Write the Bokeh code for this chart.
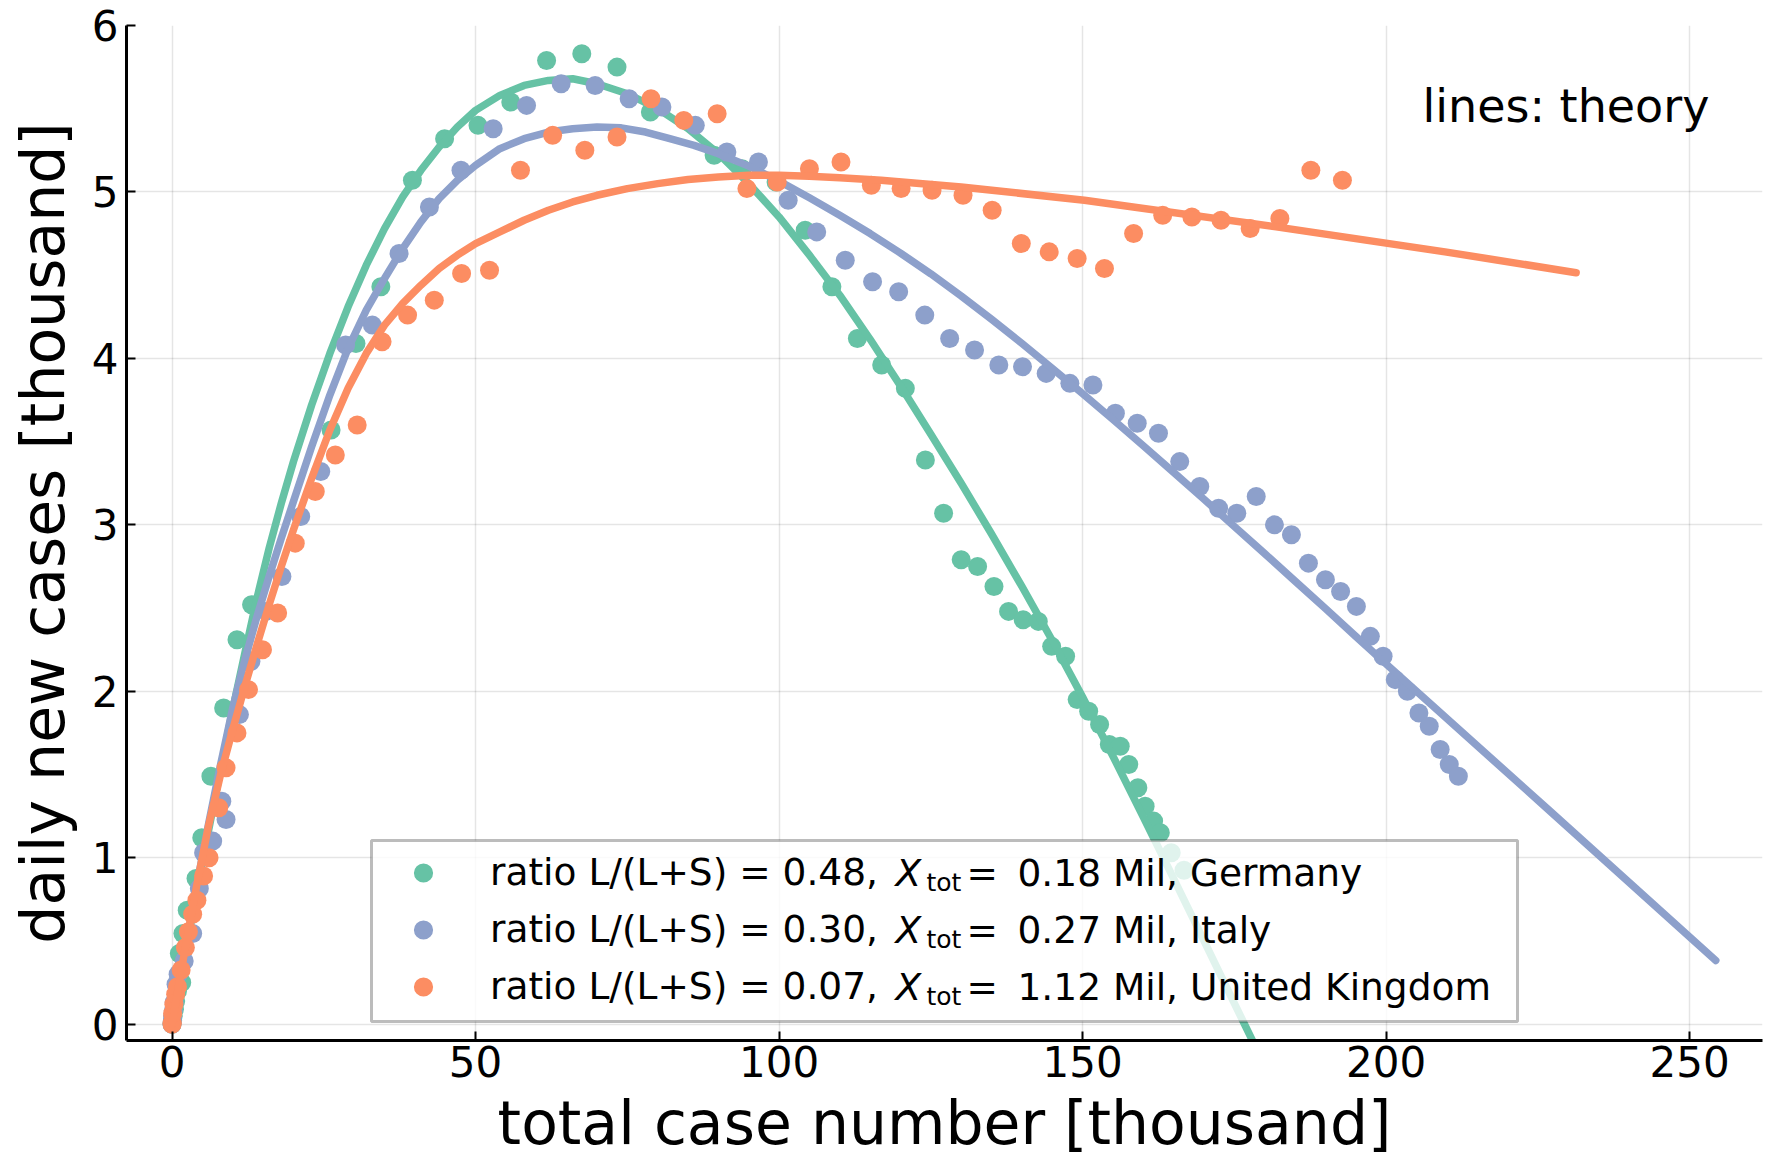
from bokeh.plotting import figure
from bokeh.models import Range1d, Label, BoxAnnotation, Legend, LegendItem, FixedTicker
from bokeh.embed import file_html
from bokeh.resources import INLINE

# ---------------- data (thousands) ----------------
ger_x = [0.0, 0.1, 0.2, 0.4, 0.6, 0.9, 1.2, 1.6, 1.8, 2.5, 3.95, 4.9, 6.4, 8.5, 10.7, 13.1,
         26.2, 30.3, 34.4, 39.6, 44.9, 50.4, 55.8, 61.7, 67.5, 73.3, 78.8, 89.3, 93.9, 99.5,
         104.3, 108.7, 112.9, 116.9, 120.8, 124.1, 127.1, 130.0, 132.7, 135.4, 137.8, 140.2,
         142.7, 144.9, 147.2, 149.1, 151.0, 152.8, 154.4, 156.2, 157.6, 159.1, 160.3, 161.7,
         162.8, 164.6, 166.7]
ger_y = [0.0, 0.02, 0.05, 0.09, 0.14, 0.20, 0.425, 0.25, 0.545, 0.685, 0.875, 1.12, 1.49, 1.90,
         2.31, 2.52, 3.57, 4.09, 4.43, 5.07, 5.32, 5.40, 5.54, 5.79, 5.83, 5.75, 5.48, 5.22, 5.14,
         5.06, 4.77, 4.43, 4.12, 3.96, 3.82, 3.39, 3.07, 2.79, 2.75, 2.63, 2.48, 2.43, 2.42, 2.27,
         2.21, 1.95, 1.88, 1.80, 1.68, 1.67, 1.56, 1.42, 1.31, 1.22, 1.15, 1.03, 0.925]

ita_x = [0.0, 0.05, 0.1, 0.2, 0.35, 0.66, 1.0, 2.0, 3.4, 4.5, 5.2, 6.7, 8.2, 8.9, 11.1, 13.0,
         15.5, 18.1, 21.2, 24.5, 28.6, 33.0, 37.4, 42.4, 47.6, 52.9, 58.4, 64.1, 69.7, 75.3,
         80.7, 86.2, 91.4, 96.6, 101.5, 106.2, 110.9, 115.4, 119.7, 124.0, 128.1, 132.2, 136.2,
         140.1, 144.0, 147.9, 151.7, 155.4, 159.0, 162.5, 166.0, 169.3, 172.4, 175.4, 178.6,
         181.6, 184.4, 187.2, 190.0, 192.5, 195.1, 197.4, 199.5, 201.5, 203.5, 205.4, 207.1,
         208.9, 210.4, 211.9]
ita_y = [0.0, 0.02, 0.05, 0.08, 0.13, 0.24, 0.30, 0.38, 0.545, 0.815, 1.03, 1.10, 1.34, 1.23,
         1.86, 2.18, 2.48, 2.69, 3.05, 3.32, 4.08, 4.20, 4.63, 4.91, 5.13, 5.38, 5.52, 5.65, 5.64,
         5.56, 5.51, 5.40, 5.24, 5.18, 4.95, 4.76, 4.59, 4.46, 4.40, 4.26, 4.12, 4.05, 3.96, 3.95,
         3.91, 3.85, 3.84, 3.67, 3.61, 3.55, 3.38, 3.23, 3.10, 3.07, 3.17, 3.00, 2.94, 2.77, 2.67,
         2.60, 2.51, 2.33, 2.21, 2.07, 2.00, 1.87, 1.79, 1.65, 1.56, 1.49]

uk_x = [0.0, 0.02, 0.1, 0.3, 0.6, 0.9, 1.5, 2.2, 2.7, 3.4, 4.1, 5.2, 6.1, 7.7, 8.9, 10.7, 12.6,
        14.9, 17.4, 20.3, 23.6, 26.9, 30.5, 34.6, 38.8, 43.2, 47.7, 52.3, 57.4, 62.7, 68.0, 73.3,
        78.9, 84.3, 89.8, 94.7, 99.7, 105.0, 110.2, 115.2, 120.1, 125.2, 130.3, 135.1, 139.9,
        144.5, 149.1, 153.6, 158.4, 163.2, 168.0, 172.8, 177.6, 182.5, 187.6, 192.8]
uk_y = [0.0, 0.006, 0.064, 0.12, 0.18, 0.225, 0.325, 0.46, 0.555, 0.66, 0.745, 0.89, 1.00, 1.30,
        1.54, 1.75, 2.01, 2.25, 2.47, 2.89, 3.20, 3.42, 3.60, 4.10, 4.26, 4.35, 4.51, 4.53, 5.13,
        5.34, 5.25, 5.33, 5.56, 5.43, 5.47, 5.02, 5.06, 5.14, 5.18, 5.04, 5.02, 5.01, 4.98, 4.89,
        4.69, 4.64, 4.60, 4.54, 4.75, 4.86, 4.85, 4.83, 4.78, 4.84, 5.13, 5.07]

# theory curves
ger_tx = [0, 2, 4, 6, 8, 10, 12, 14, 16, 18, 20, 23, 26, 29, 32, 35, 38, 41, 44, 47, 50, 54,
          58, 62, 66, 70, 75, 80, 85, 90, 95, 100, 105, 110, 115, 120, 125, 130, 135, 140, 145,
          150, 155, 160, 165, 170, 175, 180]
ger_ty = [0, 0.39, 0.78, 1.16, 1.53, 1.89, 2.23, 2.56, 2.86, 3.13, 3.38, 3.72, 4.03, 4.31, 4.56,
          4.78, 4.97, 5.13, 5.27, 5.39, 5.49, 5.58, 5.64, 5.67, 5.68, 5.65, 5.59, 5.50, 5.38, 5.23,
          5.05, 4.85, 4.62, 4.38, 4.115, 3.835, 3.545, 3.25, 2.945, 2.63, 2.305, 1.965, 1.61,
          1.245, 0.875, 0.50, 0.125, -0.25]

ita_tx = [0, 2, 4, 6, 8, 10, 12, 14, 16, 18, 20, 23, 26, 29, 32, 35, 38, 41, 44, 47, 50, 54,
          58, 62, 66, 70, 74, 78, 82, 86, 90, 95, 100, 105, 110, 115, 120, 125, 130, 135, 140,
          145, 150, 155, 160, 165, 170, 175, 180, 185, 190, 195, 200, 227.0, 254.3]
ita_ty = [0, 0.41, 0.82, 1.20, 1.56, 1.90, 2.19, 2.45, 2.69, 2.92, 3.14, 3.47, 3.78, 4.06, 4.29,
          4.48, 4.66, 4.82, 4.96, 5.07, 5.16, 5.26, 5.32, 5.36, 5.38, 5.39, 5.385, 5.36, 5.32,
          5.28, 5.23, 5.155, 5.065, 4.965, 4.86, 4.75, 4.633, 4.508, 4.375, 4.235, 4.09, 3.94,
          3.788, 3.633, 3.475, 3.315, 3.154, 2.99, 2.827, 2.662, 2.497, 2.33, 2.164, 1.28, 0.383]

uk_tx = [0, 2, 4, 6, 8, 10, 12, 14, 16, 18, 20, 23, 26, 29, 32, 35, 38, 41, 44, 47, 50, 54, 58,
         62, 66, 70, 75, 80, 85, 90, 95, 100, 105, 110, 116.8, 130.0, 150.3, 181.9, 209.7, 231.3]
uk_ty = [0, 0.42, 0.82, 1.19, 1.50, 1.77, 2.03, 2.28, 2.52, 2.75, 2.97, 3.28, 3.57, 3.82, 4.03,
         4.20, 4.33, 4.44, 4.54, 4.62, 4.69, 4.76, 4.83, 4.89, 4.94, 4.98, 5.02, 5.05, 5.075, 5.09,
         5.10, 5.10, 5.095, 5.085, 5.07, 5.03, 4.95, 4.79, 4.64, 4.515]

colors = ["#66c2a5", "#8da0cb", "#fc8d62"]
ratios = ["0.48", "0.30", "0.07"]
totals = ["0.18 Mil, Germany", "0.27 Mil, Italy", "1.12 Mil, United Kingdom"]
x_ticks = [0, 50, 100, 150, 200, 250]
y_ticks = [0, 1, 2, 3, 4, 5, 6]

FONT = "DejaVu Sans"

p = figure(width=1765, height=1160, output_backend="svg", toolbar_location=None,
           x_range=Range1d(-7.5, 262.0), y_range=Range1d(-0.098, 6.0),
           min_border_left=126, min_border_right=3, min_border_top=25, min_border_bottom=120,
           x_axis_label="total case number [thousand]",
           y_axis_label="daily new cases [thousand]")
p.outline_line_color = None
p.background_fill_color = "white"

p.xaxis.ticker = FixedTicker(ticks=x_ticks)
p.yaxis.ticker = FixedTicker(ticks=y_ticks)
for ax in [p.xaxis[0], p.yaxis[0]]:
    ax.axis_line_width = 3
    ax.axis_line_color = "black"
    ax.major_tick_in = 9
    ax.major_tick_out = 0
    ax.major_tick_line_width = 2
    ax.minor_tick_line_color = None
    ax.major_label_text_font = FONT
    ax.major_label_text_font_size = "42px"
    ax.major_label_text_color = "black"
    ax.axis_label_text_font = FONT
    ax.axis_label_text_font_size = "60px"
    ax.axis_label_text_font_style = "normal"
    ax.axis_label_text_color = "black"
p.xaxis.major_label_standoff = 5
p.xaxis.axis_label_standoff = 8
p.yaxis.major_label_standoff = 8
p.yaxis.axis_label_standoff = 11

p.grid.grid_line_color = "black"
p.grid.grid_line_alpha = 0.1
p.grid.grid_line_width = 1.5
p.xgrid.ticker = FixedTicker(ticks=x_ticks)
p.ygrid.ticker = FixedTicker(ticks=y_ticks)

series = [(ger_x, ger_y, ger_tx, ger_ty), (ita_x, ita_y, ita_tx, ita_ty), (uk_x, uk_y, uk_tx, uk_ty)]
scatter_renderers = []
for (sx, sy, tx, ty), c in zip(series, colors):
    r = p.scatter(sx, sy, size=19, fill_color=c, line_alpha=0, fill_alpha=1.0)
    scatter_renderers.append(r)
    p.line(tx, ty, line_width=7.5, line_color=c, line_cap="round", line_join="round")

# legend frame
box = BoxAnnotation(left=245, right=1391, bottom=19, top=200,
                    left_units="screen", right_units="screen",
                    top_units="screen", bottom_units="screen",
                    fill_color="white", fill_alpha=0.8,
                    line_color="#222222", line_width=3)
p.add_layout(box)

items = [LegendItem(label="ratio L/(L+S) = %s, " % r, renderers=[rr])
         for r, rr in zip(ratios, scatter_renderers)]
legend = Legend(items=items, location=(273, 25.5), padding=0, margin=0, spacing=0,
                glyph_width=48, glyph_height=57, label_height=57, label_standoff=43,
                label_text_font=FONT, label_text_font_size="37.5px",
                label_text_baseline="middle", label_text_color="black",
                border_line_alpha=0, background_fill_alpha=0)
p.add_layout(legend, "center")

row_y = [168, 111, 54]
for yc, tot in zip(row_y, totals):
    p.add_layout(Label(x=769, y=yc, x_units="screen", y_units="screen", text="X",
                       text_font=FONT, text_font_size="37.5px", text_font_style="italic",
                       text_baseline="middle", text_color="black"))
    p.add_layout(Label(x=800, y=yc - 10, x_units="screen", y_units="screen", text="tot",
                       text_font=FONT, text_font_size="25px",
                       text_baseline="middle", text_color="black"))
    p.add_layout(Label(x=840, y=yc, x_units="screen", y_units="screen", text="=",
                       text_font=FONT, text_font_size="37.5px",
                       text_baseline="middle", text_color="black"))
    p.add_layout(Label(x=891, y=yc, x_units="screen", y_units="screen", text=tot,
                       text_font=FONT, text_font_size="37.5px",
                       text_baseline="middle", text_color="black"))

p.add_layout(Label(x=1296, y=935, x_units="screen", y_units="screen", text="lines: theory",
                   text_font=FONT, text_font_size="46px", text_baseline="alphabetic",
                   text_color="black"))

open("out.html", "w").write(file_html(p, INLINE))
